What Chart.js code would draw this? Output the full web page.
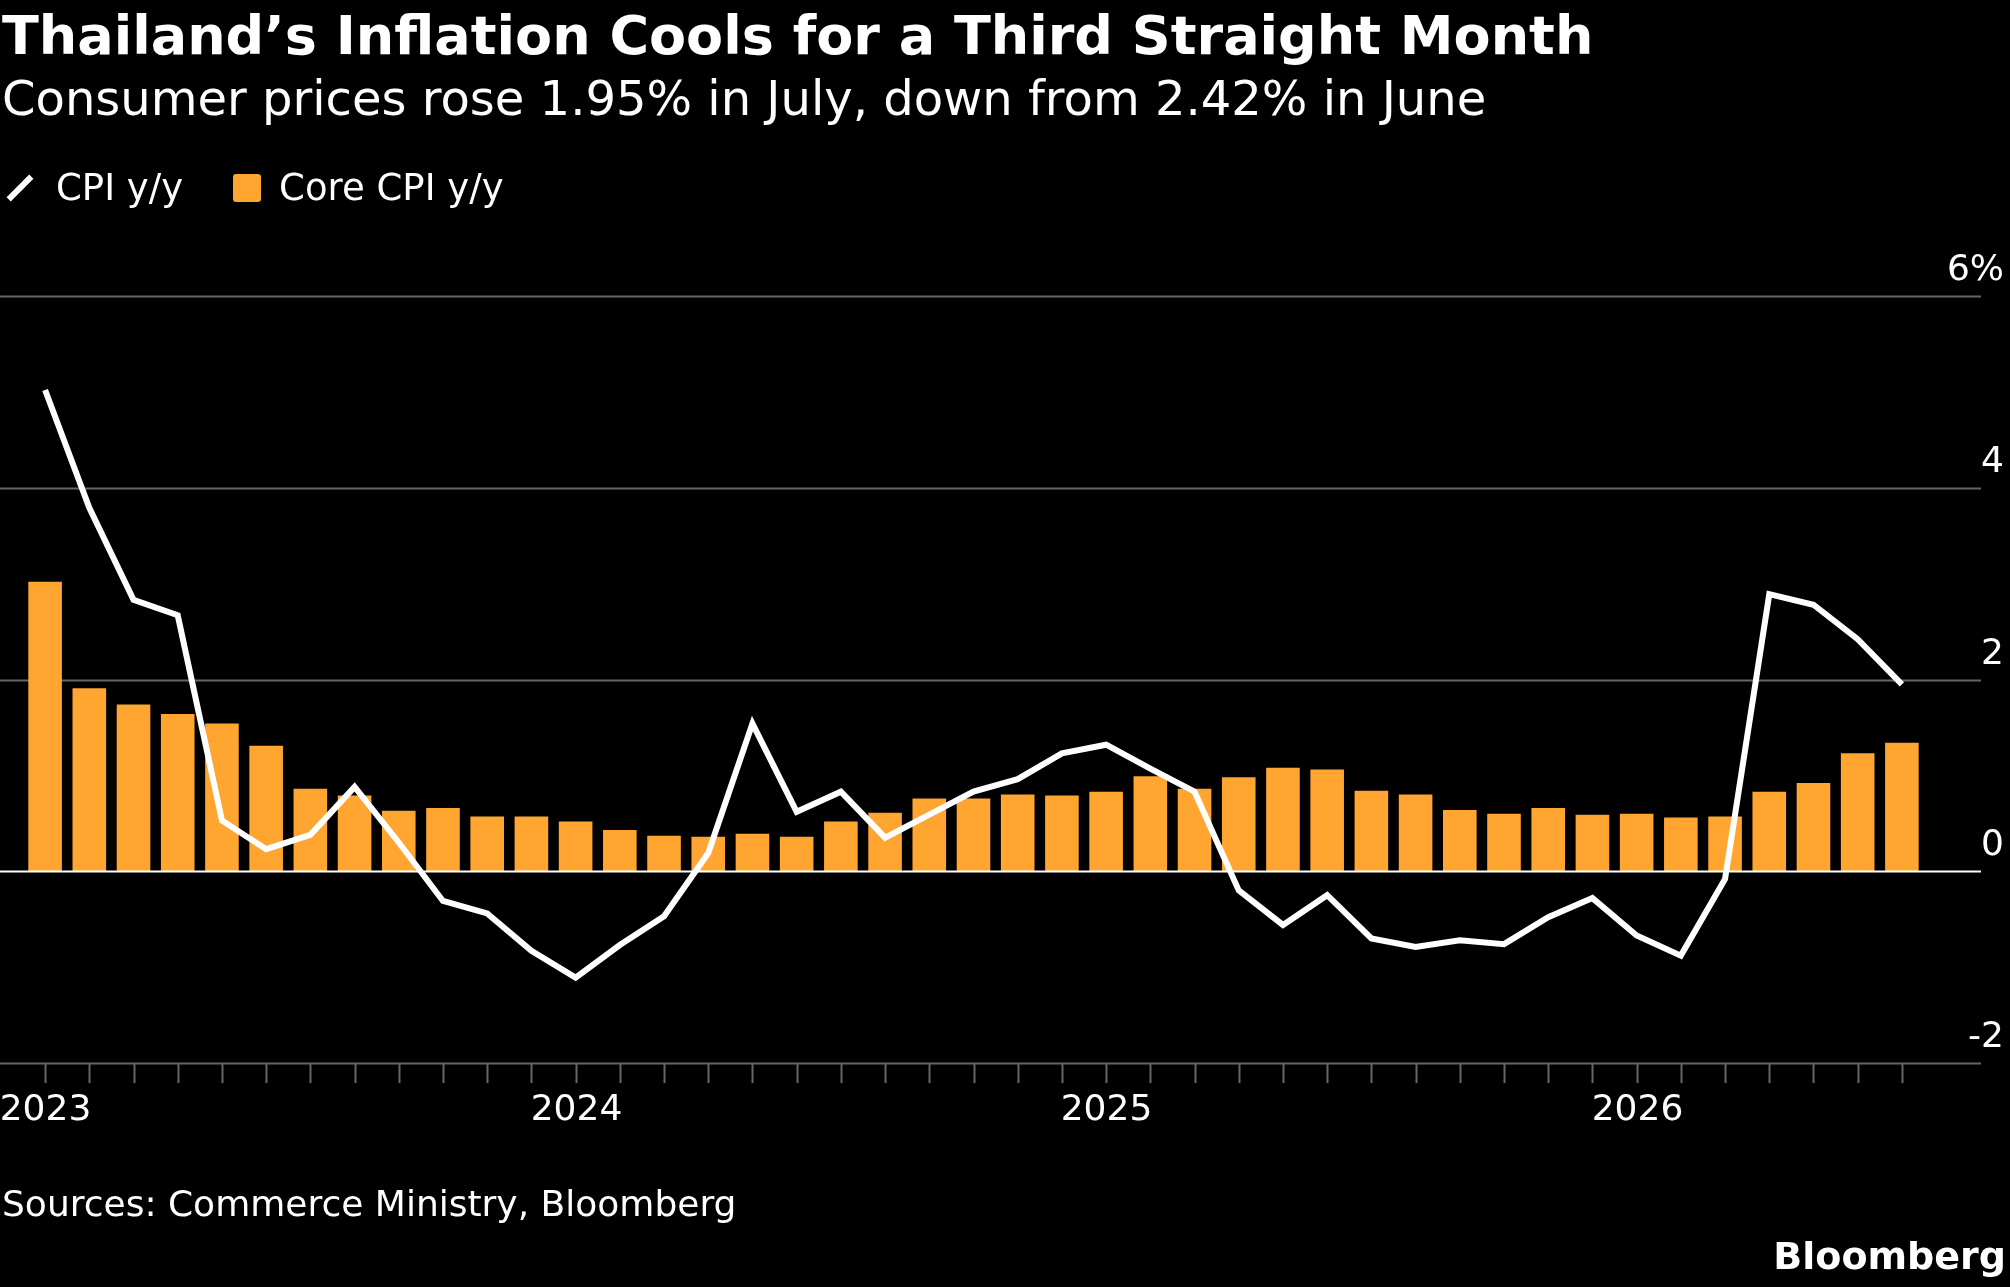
<!DOCTYPE html>
<html>
<head>
<meta charset="utf-8">
<script src="https://cdn.jsdelivr.net/npm/chart.js@4/dist/chart.umd.min.js"></script>
<style>
  body { margin: 0; background: #000; width: 2010px; height: 1287px; overflow: hidden; font-family: "DejaVu Sans", sans-serif; color: #fff; }
  #wrap { position: relative; width: 2010px; height: 1287px; }
  canvas { position: absolute; left: 0; top: 0; }
  .t { position: absolute; white-space: nowrap; }
  #title { left: 2px; top: 4px; font-size: 54px; font-weight: bold; }
  #sub { left: 2px; top: 70px; font-size: 48px; }
  #legend { left: 4px; top: 166px; font-size: 37px; display: flex; align-items: center; }
  #src { left: 2px; top: 1183px; font-size: 36px; }
  #brand { right: 4px; top: 1234px; font-size: 38px; font-weight: bold; }
  .sw { display: inline-block; width: 28px; height: 28px; background: #FFA530; border-radius: 3px; margin-right: 18px; }
  .ln { display: inline-block; width: 32px; height: 6px; background: #fff; transform: rotate(-45deg); margin-right: 20px; }
</style>
</head>
<body>
<div id="wrap">
  <canvas id="chart" width="2010" height="1287"></canvas>
  <div class="t" id="title">Thailand’s Inflation Cools for a Third Straight Month</div>
  <div class="t" id="sub">Consumer prices rose 1.95% in July, down from 2.42% in June</div>
  <div class="t" id="legend"><span class="ln"></span>CPI y/y<span style="width:50px;display:inline-block"></span><span class="sw"></span>Core CPI y/y</div>
  <div class="t" id="src">Sources: Commerce Ministry, Bloomberg</div>
  <div class="t" id="brand">Bloomberg</div>
</div>
<script>
var years = ['2023', '2024', '2025', '2026'];
var months = [];
years.forEach(function (y) {
    for (var m = 1; m <= 12; m++) {
        if (y === '2026' && m > 7) break;
        months.push(y + '-' + (m < 10 ? '0' + m : m));
    }
});

var cpi = [5.02, 3.79, 2.83, 2.67, 0.53, 0.23, 0.38, 0.88, 0.30, -0.31, -0.44, -0.83,
    -1.11, -0.77, -0.47, 0.19, 1.54, 0.62, 0.83, 0.35, 0.59, 0.83, 0.96, 1.23,
    1.32, 1.07, 0.83, -0.20, -0.56, -0.25, -0.70, -0.79, -0.72, -0.76, -0.48, -0.28,
    -0.67, -0.88, -0.08, 2.89, 2.78, 2.42, 1.95];
var coreCpi = [3.02, 1.91, 1.74, 1.64, 1.54, 1.31, 0.86, 0.79, 0.63, 0.66, 0.57, 0.57,
    0.52, 0.43, 0.37, 0.36, 0.39, 0.36, 0.52, 0.61, 0.76, 0.76, 0.80, 0.79,
    0.83, 0.99, 0.86, 0.98, 1.08, 1.06, 0.84, 0.80, 0.64, 0.60, 0.66, 0.59,
    0.60, 0.56, 0.57, 0.83, 0.92, 1.23, 1.34];
var yTicks = [6, 4, 2, 0, -2];
var yTickLabels = ['6%', '4', '2', '0', '-2'];

var decor = {
    id: 'decor',
    beforeDatasetsDraw: function (chart) {
        var c = chart.ctx, y = chart.scales.y, x = chart.scales.x, a = chart.chartArea;
        c.save();
        c.font = '36px "DejaVu Sans"';
        c.textAlign = 'right';
        c.textBaseline = 'bottom';
        yTicks.forEach(function (v, i) {
            var py = Math.round(y.getPixelForValue(v)) + 0.5;
            if (v !== 0) {
                c.strokeStyle = '#666';
                c.lineWidth = 2;
                c.beginPath(); c.moveTo(0, py); c.lineTo(1981, py); c.stroke();
            }
            c.fillStyle = '#fff';
            c.fillText(yTickLabels[i], 2004, py - 8);
        });
        c.strokeStyle = '#666';
        c.lineWidth = 2;
        c.textAlign = 'center';
        c.textBaseline = 'top';
        months.forEach(function (m, i) {
            var px = Math.round(x.getPixelForValue(i)) + 0.5;
            c.beginPath(); c.moveTo(px, a.bottom); c.lineTo(px, a.bottom + 20); c.stroke();
            if (m.slice(5) === '01') {
                c.fillText(m.slice(0, 4), px, a.bottom + 30);
            }
        });
        c.restore();
    },
    afterDatasetsDraw: function (chart) {
        var c = chart.ctx, y = chart.scales.y;
        var py = Math.round(y.getPixelForValue(0)) + 0.5;
        c.save();
        c.strokeStyle = '#fff';
        c.lineWidth = 2;
        c.beginPath(); c.moveTo(0, py); c.lineTo(1981, py); c.stroke();
        c.restore();
    }
};

new Chart(document.getElementById('chart').getContext('2d'), {
    data: {
        labels: months,
        datasets: [{
            type: 'line',
            label: 'CPI y/y',
            data: cpi,
            borderColor: '#fff',
            borderWidth: 6,
            pointRadius: 0,
            tension: 0,
            order: 0
        }, {
            type: 'bar',
            label: 'Core CPI y/y',
            data: coreCpi,
            backgroundColor: '#FFA530',
            categoryPercentage: 1,
            barPercentage: 0.76,
            order: 1
        }]
    },
    options: {
        responsive: false,
        animation: false,
        devicePixelRatio: 1,
        layout: { padding: { top: 296, bottom: 224, left: 23, right: 86 } },
        scales: {
            x: { display: false, offset: true },
            y: { display: false, min: -2, max: 6 }
        },
        plugins: { legend: { display: false }, tooltip: { enabled: false } }
    },
    plugins: [decor]
});
</script>
</body>
</html>
